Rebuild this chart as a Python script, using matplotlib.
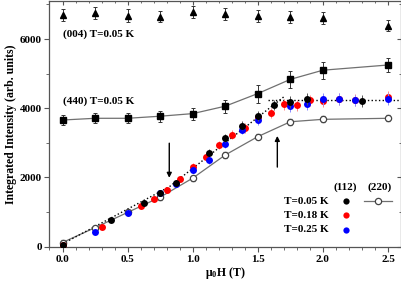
import matplotlib
matplotlib.use("Agg")
import matplotlib.pyplot as plt
import numpy as np

plt.rcParams['font.family'] = ['Liberation Serif', 'DejaVu Serif']
plt.rcParams['font.weight'] = 'bold'
plt.rcParams['mathtext.fontset'] = 'custom'
plt.rcParams['mathtext.rm'] = 'Liberation Serif:bold'
plt.rcParams['mathtext.bf'] = 'Liberation Serif:bold'
plt.rcParams['mathtext.default'] = 'bf'

# (004) triangles
h004 = [0.0, 0.25, 0.5, 0.75, 1.0, 1.25, 1.5, 1.75, 2.0, 2.5]
i004 = [6690, 6750, 6680, 6640, 6780, 6730, 6660, 6640, 6610, 6390]
e004 = [180, 180, 190, 160, 180, 180, 170, 170, 170, 150]

# (440) squares
h440 = [0.0, 0.25, 0.5, 0.75, 1.0, 1.25, 1.5, 1.75, 2.0, 2.5]
i440 = [3660, 3710, 3710, 3770, 3845, 4060, 4425, 4835, 5100, 5250]
e440 = [140, 150, 150, 160, 170, 190, 260, 250, 240, 210]

# (220) open circles
h220 = [0.0, 0.25, 0.5, 0.75, 1.0, 1.25, 1.5, 1.75, 2.0, 2.5]
i220 = [120, 550, 990, 1430, 1980, 2650, 3180, 3610, 3680, 3710]
e220 = [60, 60, 60, 70, 70, 80, 80, 90, 90, 90]

# (112) T=0.05 K
h112a = [0.0, 0.375, 0.625, 0.75, 0.875, 1.125, 1.25, 1.375, 1.5, 1.625, 1.75, 1.875, 2.3]
i112a = [60, 770, 1255, 1565, 1840, 2720, 3135, 3500, 3780, 4100, 4180, 4275, 4210]
e112a = [60, 60, 70, 80, 90, 110, 120, 130, 140, 150, 160, 170, 160]

# (112) T=0.18 K
h112b = [0.0, 0.3, 0.6, 0.7, 0.8, 0.9, 1.0, 1.1, 1.2, 1.3, 1.4, 1.5, 1.6, 1.7, 1.8, 1.9, 2.0, 2.125, 2.25, 2.5]
i112b = [50, 560, 1180, 1380, 1640, 1965, 2305, 2590, 2945, 3230, 3425, 3740, 3865, 4120, 4080, 4225, 4200, 4260, 4240, 4320]
e112b = [60, 60, 70, 70, 80, 90, 100, 110, 120, 130, 140, 150, 150, 160, 160, 170, 170, 170, 170, 170]

# (112) T=0.25 K
h112c = [0.25, 0.5, 0.75, 0.875, 1.0, 1.125, 1.25, 1.375, 1.5, 1.75, 1.875, 2.0, 2.125, 2.25, 2.5]
i112c = [415, 965, 1545, 1805, 2215, 2510, 2975, 3380, 3665, 4055, 4120, 4265, 4265, 4225, 4265]
e112c = [60, 60, 80, 90, 100, 110, 120, 130, 140, 160, 160, 170, 170, 170, 170]

# dotted guide lines
fit_h = [0.0, 0.82, 1.70]
fit_i = [80, 1730, 4330]
sat_h = [1.58, 2.6]
sat_i = [4230, 4230]

# arrows (field, start, end)
arrow_down = (0.82, 2990, 1990)
arrow_up = (1.65, 2300, 3200)

fig = plt.figure(figsize=(4.02, 2.84), dpi=100)
ax = fig.add_axes([49.5/402, 37/284, 351.5/402, 246/284])

gray = '#707070'
# lines + errorbars
ax.errorbar(h004, i004, yerr=e004, fmt='^', color='k', ms=5, ecolor='#333333',
            elinewidth=0.7, capsize=1.5, capthick=0.7, zorder=4)
ax.plot(h440, i440, '-', color=gray, lw=0.9, zorder=2)
ax.errorbar(h440, i440, yerr=e440, fmt='s', color='k', ms=4.3, ecolor='#333333',
            elinewidth=0.7, capsize=1.5, capthick=0.7, zorder=4)
ax.plot(h220, i220, '-', color=gray, lw=0.9, zorder=2)
ax.errorbar(h220, i220, yerr=e220, fmt='o', mfc='white', mec='#444444', mew=0.9,
            ms=4.5, ecolor='#666666', elinewidth=0.6, capsize=1.2, capthick=0.6, zorder=4)

ax.plot(fit_h, fit_i, ':', color='k', lw=1.0, zorder=3)
ax.plot(sat_h, sat_i, ':', color='k', lw=1.0, zorder=3)

ax.errorbar(h112b, i112b, yerr=e112b, fmt='o', color='#ff0000', ms=5, mew=0,
            ecolor='#ff8888', elinewidth=0.7, capsize=1.5, capthick=0.7, zorder=5)
ax.errorbar(h112c, i112c, yerr=e112c, fmt='o', color='#0000ff', ms=5, mew=0,
            ecolor='#8888ff', elinewidth=0.7, capsize=1.5, capthick=0.7, zorder=6)
ax.errorbar(h112a, i112a, yerr=e112a, fmt='o', color='k', ms=5, mew=0,
            ecolor='#555555', elinewidth=0.7, capsize=1.5, capthick=0.7, zorder=7)

for (xa, y0, y1) in (arrow_down, arrow_up):
    ax.annotate('', xy=(xa, y1), xytext=(xa, y0),
                arrowprops=dict(arrowstyle='-|>', color='k', lw=1.0,
                                mutation_scale=7, shrinkA=0, shrinkB=0), zorder=8)

ax.set_xlim(-0.1, 2.6)
ax.set_ylim(-10, 7100)
ax.set_xticks([0.0, 0.5, 1.0, 1.5, 2.0, 2.5])
ax.set_xticklabels(['0.0', '0.5', '1.0', '1.5', '2.0', '2.5'])
ax.set_xticks(np.arange(-0.1, 2.61, 0.1), minor=True)
ax.set_yticks([0, 2000, 4000, 6000])
ax.set_yticks([1000, 3000, 5000, 7000], minor=True)
for lab in ax.get_xticklabels() + ax.get_yticklabels():
    lab.set_fontweight('bold')
    lab.set_fontsize(8)
ax.tick_params(which='major', direction='out', length=3.5, width=0.8, color='#555555', pad=2)
ax.tick_params(which='minor', direction='out', length=2, width=0.6, color='#555555')
for s in ax.spines.values():
    s.set_color('#555555')
    s.set_linewidth(0.9)

sec = ax.secondary_xaxis('top')
sec.set_xticks([0.0, 0.5, 1.0, 1.5, 2.0, 2.5])
sec.set_xticks(np.arange(-0.1, 2.61, 0.1), minor=True)
sec.tick_params(which='both', direction='in', labeltop=False, color='#555555')
sec.tick_params(which='major', length=3)
sec.tick_params(which='minor', length=1.5)
secy = ax.secondary_yaxis('right')
secy.set_yticks([0, 2000, 4000, 6000])
secy.set_yticks([1000, 3000, 5000, 7000], minor=True)
secy.tick_params(which='both', direction='in', labelright=False, color='#555555')
secy.tick_params(which='major', length=3)
secy.tick_params(which='minor', length=1.5)
for s in list(sec.spines.values()) + list(secy.spines.values()):
    s.set_visible(False)

ax.set_xlabel(r'$\mu_0$H (T)', fontsize=8.5, fontweight='bold', labelpad=1)
ax.set_ylabel('Integrated Intensity (arb. units)', fontsize=8.5, fontweight='bold', labelpad=2)

ax.text(0.0, 6130, '(004) T=0.05 K', fontsize=8, fontweight='bold', ha='left', va='center')
ax.text(0.0, 4200, '(440) T=0.05 K', fontsize=8, fontweight='bold', ha='left', va='center')

# manual legend
def ax_xy(px, py):
    return ((px - 49.5) / 351.5, (247 - py) / 246)

tr = ax.transAxes
ax.text(*ax_xy(345, 187), '(112)', transform=tr, fontsize=8, fontweight='bold', ha='center', va='center')
ax.text(*ax_xy(379.5, 187), '(220)', transform=tr, fontsize=8, fontweight='bold', ha='center', va='center')
labels = ['T=0.05 K', 'T=0.18 K', 'T=0.25 K']
cols = ['k', '#ff0000', '#0000ff']
rows = [201.3, 215.3, 229.7]
for lab, c, py in zip(labels, cols, rows):
    ax.text(*ax_xy(329, py), lab, transform=tr, fontsize=8, fontweight='bold', ha='right', va='center')
    ax.plot(*ax_xy(345.7, py), 'o', color=c, ms=4.5, mew=0, transform=tr, clip_on=False)
x1, y1 = ax_xy(364, 201.3)
x2, _ = ax_xy(392, 201.3)
ax.plot([x1, x2], [y1, y1], '-', color=gray, lw=0.9, transform=tr)
ax.plot(*ax_xy(378, 201.3), 'o', mfc='white', mec='#444444', mew=0.9, ms=4.5, transform=tr)

fig.savefig('out.png', dpi=100)
